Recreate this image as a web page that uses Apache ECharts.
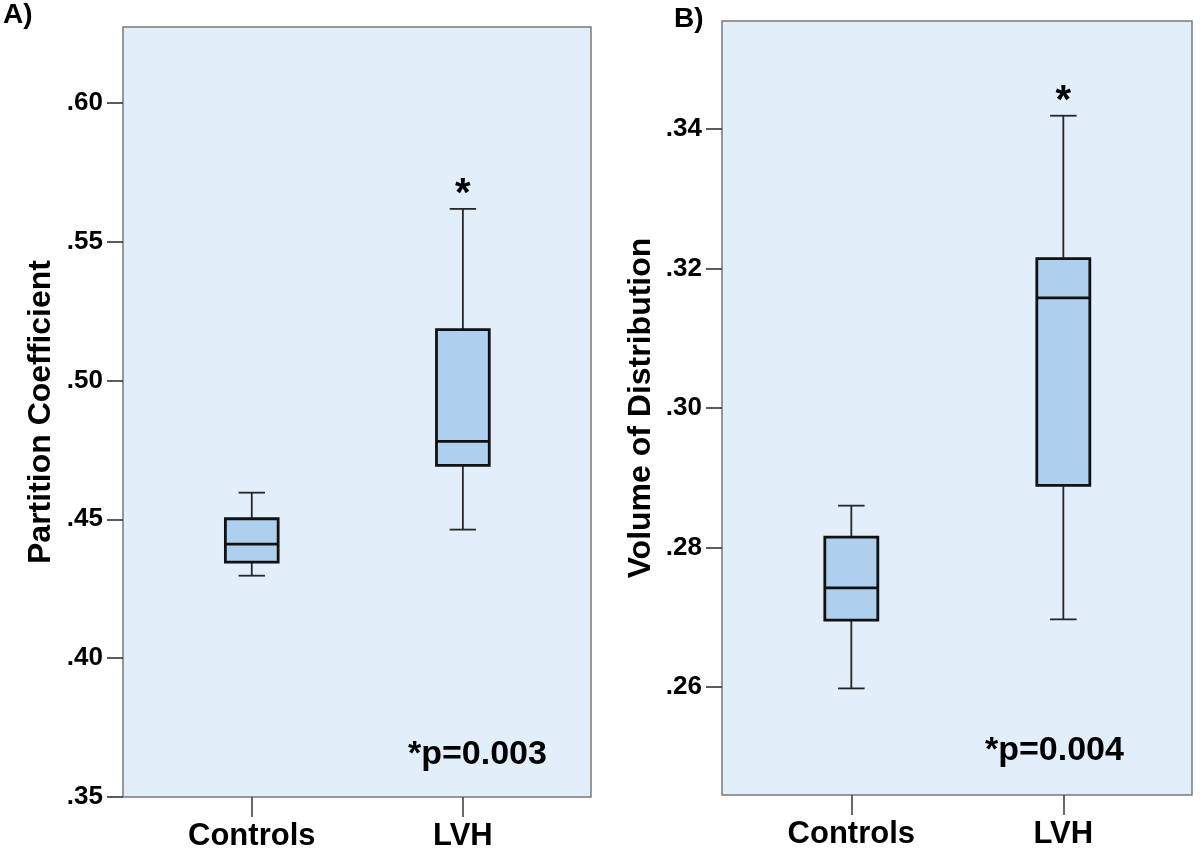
<!DOCTYPE html>
<html>
<head>
<meta charset="utf-8">
<script src="https://cdn.jsdelivr.net/npm/echarts@6/dist/echarts.min.js"></script>
<style>
html,body{margin:0;padding:0;background:#fff;}
#chart{width:1200px;height:857px;}
</style>
</head>
<body>
<div id="chart"></div>
<script>
// ---- data ----
const categories = ['Controls', 'LVH'];
// [min, Q1, median, Q3, max]
const pcControls = [0.4297, 0.4346, 0.4411, 0.4502, 0.4596];
const pcLVH      = [0.4463, 0.4694, 0.4781, 0.5183, 0.5618];
const vdControls = [0.2598, 0.2696, 0.2742, 0.2815, 0.2860];
const vdLVH      = [0.2697, 0.2889, 0.3158, 0.3214, 0.3419];
const starred    = [false, true];
const pcTicks = [0.35, 0.40, 0.45, 0.50, 0.55, 0.60];
const vdTicks = [0.26, 0.28, 0.30, 0.32, 0.34];
const pcTitle = 'Partition Coefficient';
const vdTitle = 'Volume of Distribution';
const pcNote = '*p=0.003';
const vdNote = '*p=0.004';
const panelLabels = ['A)', 'B)'];

// ---- styles ----
const FONT = '"Liberation Sans", Arial, sans-serif';
const BG = '#e2eefa';
const BOX = '#aecfee';

function rows(a, b) {
  return [[0].concat(a), [1].concat(b)];
}

function renderBox(params, api) {
  const x = api.value(0);
  const mn = api.value(1), q1 = api.value(2), md = api.value(3), q3 = api.value(4), mx = api.value(5);
  const w = api.size([0.25, 0])[0];
  const cw = w / 2;
  const pMin = api.coord([x, mn]);
  const pQ1 = api.coord([x, q1]);
  const pMd = api.coord([x, md]);
  const pQ3 = api.coord([x, q3]);
  const pMax = api.coord([x, mx]);
  const cx = pMin[0];
  const wl = {stroke: '#262626', lineWidth: 1.8};
  const children = [
    {type: 'line', shape: {x1: cx, y1: pMin[1], x2: cx, y2: pQ1[1]}, style: wl},
    {type: 'line', shape: {x1: cx, y1: pQ3[1], x2: cx, y2: pMax[1]}, style: wl},
    {type: 'line', shape: {x1: cx - cw / 2, y1: pMin[1], x2: cx + cw / 2, y2: pMin[1]}, style: wl},
    {type: 'line', shape: {x1: cx - cw / 2, y1: pMax[1], x2: cx + cw / 2, y2: pMax[1]}, style: wl},
    {type: 'rect', shape: {x: cx - w / 2, y: pQ3[1], width: w, height: pQ1[1] - pQ3[1]},
      style: {fill: BOX, stroke: '#111', lineWidth: 2.8}},
    {type: 'line', shape: {x1: cx - w / 2, y1: pMd[1], x2: cx + w / 2, y2: pMd[1]},
      style: {stroke: '#111', lineWidth: 2.8}}
  ];
  if (starred[Math.round(x)]) {
    children.push({type: 'text', x: cx, y: pMax[1] - 14,
      style: {text: '*', fill: '#000', font: 'bold 40px ' + FONT, align: 'center', verticalAlign: 'middle'}});
  }
  return {type: 'group', children: children};
}

function xAxisCfg(gi) {
  return {
    type: 'value', gridIndex: gi, min: -0.61, max: 1.607, position: 'bottom',
    axisLine: {show: false, onZero: false},
    splitLine: {show: false},
    axisTick: {show: true, customValues: [0, 1], length: 20, lineStyle: {color: '#444', width: 1.6}},
    axisLabel: {customValues: [0, 1], formatter: v => categories[Math.round(v)],
      color: '#000', fontWeight: 'bold', fontSize: 31, fontFamily: FONT, margin: 24}
  };
}

function yAxisCfg(gi, mn, mx, ticks, title, gap) {
  return {
    type: 'value', gridIndex: gi, min: mn, max: mx, position: 'left',
    axisLine: {show: false, onZero: false},
    splitLine: {show: false},
    axisTick: {show: true, customValues: ticks, length: 16, lineStyle: {color: '#333', width: 1.6}},
    axisLabel: {customValues: ticks, formatter: v => v.toFixed(2).replace(/^0/, ''),
      color: '#000', fontWeight: 'bold', fontSize: 26, fontFamily: FONT, margin: 20},
    name: title, nameLocation: 'middle', nameGap: gap, nameRotate: 90,
    nameTextStyle: {color: '#000', fontWeight: 'bold', fontSize: 32, fontFamily: FONT}
  };
}

const chart = echarts.init(document.getElementById('chart'), null, {renderer: 'canvas'});
chart.setOption({
  backgroundColor: '#fff',
  animation: false,
  grid: [
    {left: 123, top: 27, width: 468, height: 770, show: true, backgroundColor: BG, borderColor: '#7a7a7a', borderWidth: 1.5},
    {left: 722, top: 21, width: 470, height: 774, show: true, backgroundColor: BG, borderColor: '#7a7a7a', borderWidth: 1.5}
  ],
  xAxis: [xAxisCfg(0), xAxisCfg(1)],
  yAxis: [
    yAxisCfg(0, 0.35, 0.6273, pcTicks, pcTitle, 66),
    yAxisCfg(1, 0.24452, 0.35548, vdTicks, vdTitle, 65)
  ],
  series: [
    {type: 'custom', xAxisIndex: 0, yAxisIndex: 0, renderItem: renderBox,
      encode: {x: 0, y: [1, 2, 3, 4, 5]}, data: rows(pcControls, pcLVH), clip: false},
    {type: 'custom', xAxisIndex: 1, yAxisIndex: 1, renderItem: renderBox,
      encode: {x: 0, y: [1, 2, 3, 4, 5]}, data: rows(vdControls, vdLVH), clip: false}
  ],
  graphic: [
    {type: 'text', left: 3, top: 1, style: {text: panelLabels[0], fill: '#000', font: 'bold 28px ' + FONT}},
    {type: 'text', left: 674, top: 5, style: {text: panelLabels[1], fill: '#000', font: 'bold 28px ' + FONT}},
    {type: 'text', x: 408, y: 755, style: {text: pcNote, fill: '#000', font: 'bold 34px ' + FONT, verticalAlign: 'middle'}},
    {type: 'text', x: 985, y: 751, style: {text: vdNote, fill: '#000', font: 'bold 34px ' + FONT, verticalAlign: 'middle'}}
  ]
});
</script>
</body>
</html>
